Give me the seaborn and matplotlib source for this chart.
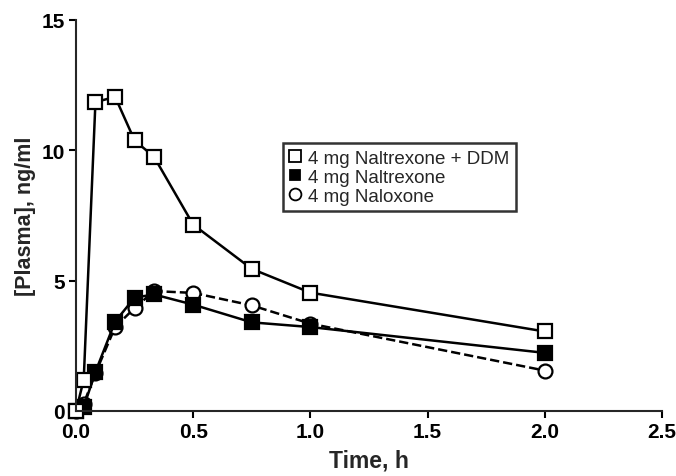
import numpy as np
import pandas as pd
import matplotlib
matplotlib.use("Agg")
import matplotlib.pyplot as plt
import seaborn as sns

# time points (h) and plasma levels (ng/ml)
time_h = [0, 0.033, 0.083, 0.167, 0.25, 0.333, 0.5, 0.75, 1.0, 2.0]
naltrexone_ddm = [0, 1.2, 11.85, 12.05, 10.38, 9.75, 7.15, 5.45, 4.54, 3.05]
naltrexone = [0, 0.15, 1.5, 3.43, 4.35, 4.47, 4.08, 3.4, 3.22, 2.23]
naloxone = [0, 0.28, 1.45, 3.22, 3.95, 4.6, 4.53, 4.05, 3.35, 1.55]

labels = ["4 mg Naltrexone + DDM", "4 mg Naltrexone", "4 mg Naloxone"]
xticks = [0, 0.5, 1.0, 1.5, 2.0, 2.5]
xticklabels = ["0.0", "0.5", "1.0", "1.5", "2.0", "2.5"]
yticks = [0, 5, 10, 15]

sns.set_style("ticks")
plt.rcParams['font.family'] = ['Liberation Sans', 'DejaVu Sans']

fig = plt.figure(figsize=(6.76, 4.77), dpi=100)
ax = fig.add_axes([0.1124, 0.1363, 0.8669, 0.8197])

# naloxone first so the squares sit on top of the circles
sns.lineplot(x=time_h, y=naloxone, ax=ax, color='black', linestyle='--', linewidth=1.8,
             marker='o', markersize=10, markerfacecolor='white', markeredgecolor='black',
             markeredgewidth=1.6, clip_on=False, legend=False)
sns.lineplot(x=time_h, y=naltrexone, ax=ax, color='black', linewidth=1.8,
             marker='s', markersize=9.5, markerfacecolor='black', markeredgecolor='black',
             markeredgewidth=1.6, clip_on=False, legend=False)
sns.lineplot(x=time_h, y=naltrexone_ddm, ax=ax, color='black', linewidth=1.8,
             marker='s', markersize=9.5, markerfacecolor='white', markeredgecolor='black',
             markeredgewidth=1.6, clip_on=False, legend=False)

ax.set_xlim(0, 2.5)
ax.set_ylim(0, 15)
ax.set_xticks(xticks)
ax.set_xticklabels(xticklabels)
ax.set_yticks(yticks)
for lab in ax.get_xticklabels() + ax.get_yticklabels():
    lab.set_fontweight('bold')
    lab.set_fontsize(15)
ax.tick_params(axis='both', length=5, width=1.5, pad=3, colors='black')
ax.set_xlabel("Time, h", fontsize=16.5, fontweight='bold', labelpad=5)
ax.set_ylabel("[Plasma], ng/ml", fontsize=15.5, fontweight='bold', labelpad=4)
sns.despine(ax=ax)
ax.spines['left'].set_linewidth(1.5)
ax.spines['bottom'].set_linewidth(1.5)

# legend shows markers only
leg_handles = [
    plt.Line2D([], [], linestyle='none', marker='s', markersize=8.5,
               markerfacecolor='white', markeredgecolor='black', markeredgewidth=1.3),
    plt.Line2D([], [], linestyle='none', marker='s', markersize=7,
               markerfacecolor='black', markeredgecolor='black', markeredgewidth=1.3),
    plt.Line2D([], [], linestyle='none', marker='o', markersize=8.5,
               markerfacecolor='white', markeredgecolor='black', markeredgewidth=1.3),
]
leg = ax.legend(leg_handles, labels, loc='upper left', bbox_to_anchor=(0.353, 0.685),
                fontsize=13.5, frameon=True, fancybox=False, edgecolor='black',
                handlelength=0.6, handletextpad=0.4, labelspacing=0.1, borderpad=0.35,
                borderaxespad=0)
leg.get_frame().set_linewidth(1.8)

fig.savefig("out.png", dpi=100)
